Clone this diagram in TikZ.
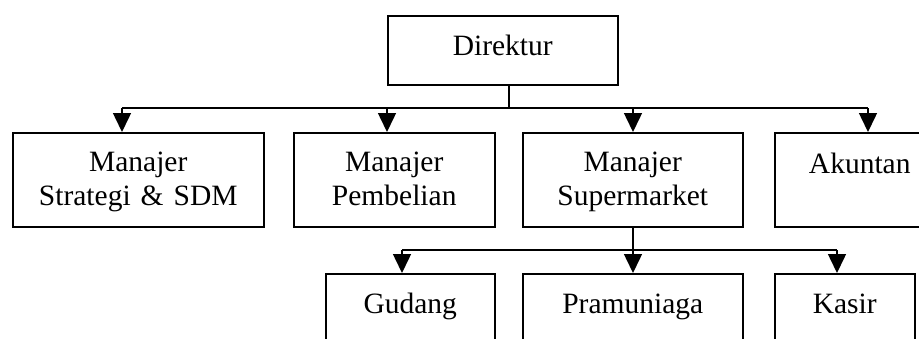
\documentclass[tikz,border=0pt]{standalone}
\usepackage{fontspec}
\setmainfont{Liberation Serif}
\usetikzlibrary{arrows.meta}
\begin{document}
\begin{tikzpicture}[x=1pt,y=-1pt,
  box/.style={draw=black, line width=1.5pt, fill=white, rectangle, anchor=north west,
    inner sep=0pt, align=center, font=\fontsize{29.5}{34}\selectfont},
  twoline/.style={box, minimum height=94pt, text height=73pt, text depth=21pt},
  oneline/.style={box, minimum height=94pt, text height=#1, text depth=94pt-#1},
  link/.style={draw=black, line width=1.5pt},
  arr/.style={link, -{Triangle[width=18pt,length=19pt]}}]
\useasboundingbox (0,0) rectangle (919,338);
\clip (0,0) rectangle (919,338);
\fill[white] (0,0) rectangle (919,338);
% boxes
\node[box, minimum width=230pt, minimum height=69pt, text height=40pt, text depth=29pt] (dir) at (387,15) {Direktur};
\node[twoline, minimum width=251pt] (m1) at (12,132) {Manajer\\Strategi\hspace{10pt}\&\hspace{10pt}SDM};
\node[twoline, minimum width=201pt] (m2) at (293,132) {Manajer\\Pembelian};
\node[twoline, minimum width=220pt] (m3) at (522,132) {Manajer\\Supermarket};
\node[oneline=41pt, minimum width=170pt] (m4) at (774,132) {Akuntan};
\node[oneline=40pt, minimum width=169pt] (g) at (325,273) {Gudang};
\node[oneline=40pt, minimum width=220pt] (p) at (522,273) {Pramuniaga};
\node[oneline=40pt, minimum width=140pt] (k) at (774,273) {Kasir};
% bus coordinates
\coordinate (d0) at (509,84);
\coordinate (b1) at (122,108);
\coordinate (b2) at (387,108);
\coordinate (b3) at (633,108);
\coordinate (b4) at (868,108);
\coordinate (s0) at (633,226);
\coordinate (c1) at (402,250);
\coordinate (c3) at (837,250);
% connectors
\draw[link] (d0) -- (d0 |- b1);
\draw[link] (b1) -- (b4);
\draw[arr] (b1) -- (b1 |- m1.north);
\draw[arr] (b2) -- (b2 |- m2.north);
\draw[arr] (b3) -- (b3 |- m3.north);
\draw[arr] (b4) -- (b4 |- m4.north);
\draw[link] (c1) -- (c3);
\draw[arr] (s0) -- (s0 |- p.north);
\draw[arr] (c1) -- (c1 |- g.north);
\draw[arr] (c3) -- (c3 |- k.north);
\end{tikzpicture}
\end{document}
